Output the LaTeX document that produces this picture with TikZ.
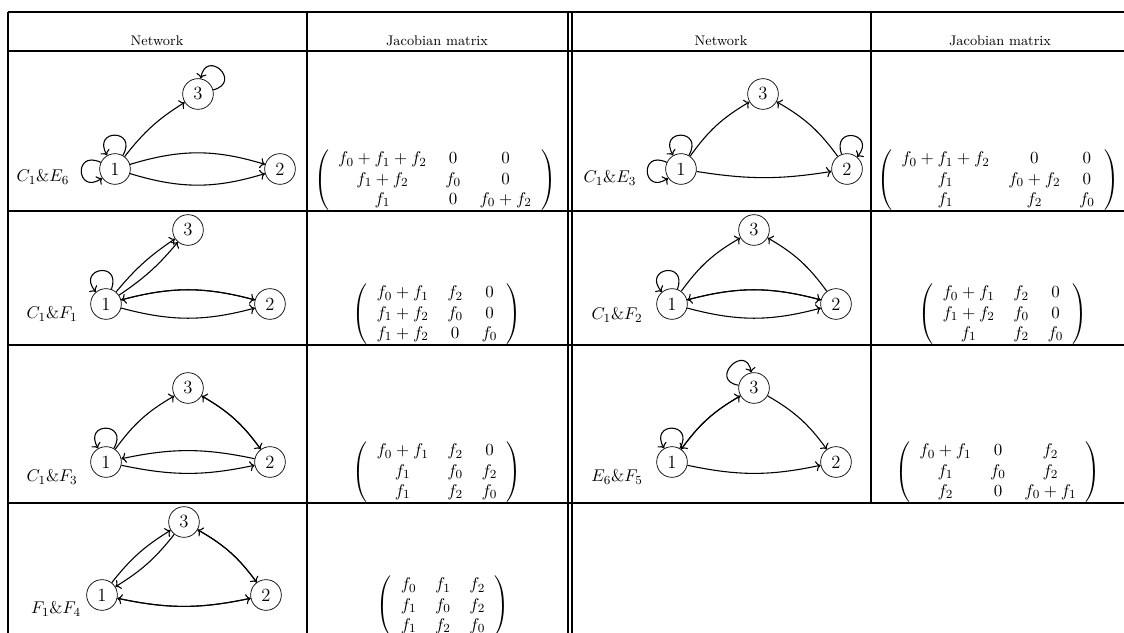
\documentclass[tikz,border=0pt]{standalone}
\usepackage{amsmath}
\usetikzlibrary{arrows.meta}

\begin{document}
\begin{tikzpicture}[x=0.645pt,y=0.645pt,
  vtx/.style={draw,circle,line width=0.45pt,minimum size=19.8pt,inner sep=0pt,font=\large},
  arc/.style={->,line width=0.7pt},
  selfloop/.style={->,line width=0.7pt,min distance=20pt},
  rule/.style={line width=0.8pt},
  head/.style={font=\fontsize{9}{11}\selectfont},
  tag/.style={font=\fontsize{10.95}{13}\selectfont},
  jac/.style={inner sep=0pt,font=\fontsize{10.95}{13}\selectfont}]
  \clip (0,0) rectangle (1124,-633);
  \foreach \y in {12,51,211,345,503}
    \draw[rule] (8,-\y) -- (1130,-\y);
  \foreach \x in {8,307,568,572}
    \draw[rule] (\x,-12) -- (\x,-640);
  \draw[rule] (871,-12) -- (871,-503);
  \draw[rule] (1129,-12) -- (1129,-503);

  \node[head] (hnetA) at (157,-41) {Network};
  \node[head] (hjacA) at (437,-41) {Jacobian matrix};
  \node[head] (hnetB) at (721,-41) {Network};
  \node[head] (hjacB) at (1000,-41) {Jacobian matrix};

  \begin{scope}
    \node[vtx] (a1) at (115,-169) {1};
    \node[vtx] (a2) at (280,-169) {2};
    \node[vtx] (a3) at (198,-94) {3};
    \node[tag] (ta) at (43,-177) {$C_1\&E_6$};
    \draw[arc] (a1) edge[bend left=10] (a3) edge[bend left=17] (a2) edge[bend right=17] (a2);
    \draw[selfloop] (a1) to[out=60,in=120] (a1);
    \draw[selfloop] (a1) to[out=155,in=215] (a1);
    \draw[selfloop] (a3) to[out=15,in=80] (a3);
    \node[jac] (ma) at (435,-180) {$\arraycolsep=6pt\left(\begin{array}{ccc}
      f_0+f_1+f_2 & 0 & 0\\ f_1+f_2 & f_0 & 0\\ f_1 & 0 & f_0+f_2
    \end{array}\right)$};
  \end{scope}

  \begin{scope}
    \node[vtx] (b1) at (681,-169) {1};
    \node[vtx] (b2) at (847,-169) {2};
    \node[vtx] (b3) at (763,-94) {3};
    \node[tag] (tb) at (610,-178) {$C_1\&E_3$};
    \draw[arc] (b1) edge[bend left=12] (b3) edge[bend right=9] (b2);
    \draw[arc] (b2) edge[bend right=12] (b3);
    \draw[selfloop] (b1) to[out=60,in=120] (b1);
    \draw[selfloop] (b1) to[out=155,in=215] (b1);
    \draw[selfloop] (b2) to[out=110,in=50] (b2);
    \node[jac] (mb) at (998,-180) {$\arraycolsep=6pt\left(\begin{array}{ccc}
      f_0+f_1+f_2 & 0 & 0\\ f_1 & f_0+f_2 & 0\\ f_1 & f_2 & f_0
    \end{array}\right)$};
  \end{scope}

  \begin{scope}
    \node[vtx] (c1) at (106,-304) {1};
    \node[vtx] (c2) at (270,-304) {2};
    \node[vtx] (c3) at (188,-230) {3};
    \node[tag] (tc) at (52,-314) {$C_1\&F_1$};
    \draw[arc] (c1) edge[bend left=8] (c3) edge[bend right=8] (c3)
      edge[bend left=15] (c2) edge[bend right=15] (c2);
    \draw[arc] (c2) edge[bend right=15] (c1);
    \draw[selfloop] (c1) to[out=70,in=130] (c1);
    \node[jac] (mc) at (437,-314) {$\arraycolsep=6pt\left(\begin{array}{ccc}
      f_0+f_1 & f_2 & 0\\ f_1+f_2 & f_0 & 0\\ f_1+f_2 & 0 & f_0
    \end{array}\right)$};
  \end{scope}

  \begin{scope}
    \node[vtx] (d1) at (672,-304) {1};
    \node[vtx] (d2) at (836,-304) {2};
    \node[vtx] (d3) at (754,-230) {3};
    \node[tag] (td) at (617,-315) {$C_1\&F_2$};
    \draw[arc] (d1) edge[bend left=12] (d3) edge[bend left=15] (d2) edge[bend right=15] (d2);
    \draw[arc] (d2) edge[bend right=12] (d3) edge[bend right=15] (d1);
    \draw[selfloop] (d1) to[out=70,in=130] (d1);
    \node[jac] (md) at (1003,-314) {$\arraycolsep=6pt\left(\begin{array}{ccc}
      f_0+f_1 & f_2 & 0\\ f_1+f_2 & f_0 & 0\\ f_1 & f_2 & f_0
    \end{array}\right)$};
  \end{scope}

  \begin{scope}
    \node[vtx] (e1) at (106,-462) {1};
    \node[vtx] (e2) at (270,-462) {2};
    \node[vtx] (e3) at (188,-388) {3};
    \node[tag] (te) at (52,-477) {$C_1\&F_3$};
    \draw[arc] (e1) edge[bend left=12] (e3) edge[bend right=12] (e2);
    \draw[arc] (e2) edge[bend right=12] (e3) edge[bend right=12] (e1);
    \draw[arc] (e3) edge[bend left=12] (e2);
    \draw[selfloop] (e1) to[out=60,in=120] (e1);
    \node[jac] (me) at (437,-472) {$\arraycolsep=6pt\left(\begin{array}{ccc}
      f_0+f_1 & f_2 & 0\\ f_1 & f_0 & f_2\\ f_1 & f_2 & f_0
    \end{array}\right)$};
  \end{scope}

  \begin{scope}
    \node[vtx] (g1) at (672,-462) {1};
    \node[vtx] (g2) at (836,-462) {2};
    \node[vtx] (g3) at (754,-388) {3};
    \node[tag] (tg) at (617,-477) {$E_6\&F_5$};
    \draw[arc] (g1) edge[bend left=12] (g3) edge[bend right=12] (g2);
    \draw[arc] (g3) edge[bend right=12] (g1) edge[bend left=12] (g2);
    \draw[selfloop] (g1) to[out=60,in=120] (g1);
    \draw[selfloop] (g3) to[out=170,in=100] (g3);
    \node[jac] (mg) at (998,-472) {$\arraycolsep=6pt\left(\begin{array}{ccc}
      f_0+f_1 & 0 & f_2\\ f_1 & f_0 & f_2\\ f_2 & 0 & f_0+f_1
    \end{array}\right)$};
  \end{scope}

  \begin{scope}
    \node[vtx] (h1) at (102,-595) {1};
    \node[vtx] (h2) at (266,-595) {2};
    \node[vtx] (h3) at (184,-522) {3};
    \node[tag] (th) at (56,-609) {$F_1\&F_4$};
    \draw[arc] (h1) edge[bend left=10] (h3) edge[bend right=12] (h2);
    \draw[arc] (h3) edge[bend left=10] (h1) edge[bend left=12] (h2);
    \draw[arc] (h2) edge[bend right=12] (h3) edge[bend left=12] (h1);
    \node[jac] (mh) at (443,-606) {$\arraycolsep=6pt\left(\begin{array}{ccc}
      f_0 & f_1 & f_2\\ f_1 & f_0 & f_2\\ f_1 & f_2 & f_0
    \end{array}\right)$};
  \end{scope}
\end{tikzpicture}
\end{document}
